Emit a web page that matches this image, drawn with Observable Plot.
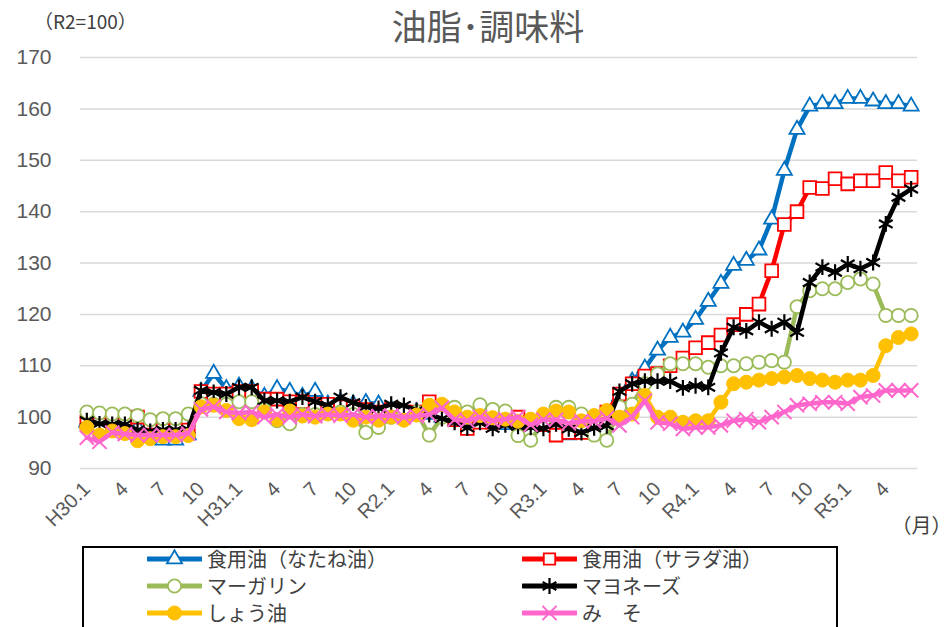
<!DOCTYPE html>
<html><head><meta charset="utf-8">
<script src="https://cdn.jsdelivr.net/npm/d3@7"></script>
<script src="https://cdn.jsdelivr.net/npm/@observablehq/plot@0.6"></script>
<style>
body{margin:0;background:#fff;}
#wrap{width:950px;height:627px;overflow:hidden;position:relative;}
#head{position:relative;height:40px;}
#title{position:absolute;left:0;width:976px;top:4px;text-align:center;font-family:"Noto Sans CJK JP",sans-serif;font-size:35px;color:#595959;line-height:42px;}
#unit{position:absolute;left:34px;top:10px;font-family:"Noto Sans CJK JP","Liberation Sans",sans-serif;font-size:19px;color:#404040;line-height:22px;}
#chart svg{display:block;}
#legend{position:relative;height:81px;}
#legbox{position:absolute;left:82px;top:0;width:756px;height:81px;border:2px solid #000;border-bottom:none;box-sizing:border-box;}
.item{position:absolute;display:flex;align-items:center;font-family:"Noto Sans CJK JP",sans-serif;font-size:20px;line-height:26px;color:#404040;white-space:nowrap;}
.item svg{margin-right:5px;}
</style></head><body>
<div id="wrap">
  <div id="head"><div id="title">油脂･調味料</div><div id="unit">（R2=100）</div></div>
  <div id="chart"></div>
  <div id="legend"><div id="legbox"></div></div>
</div>
<script>
// Tick labels every 3 months, H30.1 (2018/1) .. R5.4
const tickLabels = ["H30.1","4","7","10","H31.1","4","7","10","R2.1","4","7","10","R3.1","4","7","10","R4.1","4","7","10","R5.1","4"];
const yTicks = [90,100,110,120,130,140,150,160,170];
const seriesNames = ["食用油（なたね油）","食用油（サラダ油）","マーガリン","マヨネーズ","しょう油","み　そ"];

// Monthly values H30.1 .. R5.6 (66 months)
const nataneOil = [99,98.5,98.5,98,98,97.5,95.5,95.5,96.5,
 105,108.5,105.5,106,105.5,104,105.5,105,104,105,102.5,103,102.5,102.8,102.5,
 101.5,101,101,100.5,100,100,99.5,99.5,99,98.5,99,99,
 98.5,98,96.5,98,98.5,100.5,104,107,109.5,113,115.5,116.5,
 119,122.5,126,129.5,130.5,132.5,138.5,148,156,160.5,161,161,
 162,162,161.5,161,161,160.5];
const saladOil = [99,98.5,98.5,98.5,100,99,97.5,97.5,97.5,
 105,104.5,104.5,105,105,103.5,103.5,103,103,102.5,102.5,102,102,101.5,101,
 101.5,101,101,103,100.5,99.5,97.8,99,99,99.5,100,99,
 98.5,96.5,97,97,99,101,104.5,106.5,108,108.5,110,111.5,
 113.5,114.5,116,118,120,122,128.5,137.5,140,144.7,144.5,146.4,
 145.4,146,146,147.6,146,146.7];
const margarine = [101,100.8,100.6,100.6,100.3,99.5,99.7,99.7,100.6,
 102.6,102.5,102.5,103,103,101.5,99.3,98.7,100.5,100.5,101,101,100.5,97,98,
 100,101,101,96.5,100,101.9,101,102.4,101.5,101.2,96.4,95.5,
 99,101.9,101.9,100.6,96.5,95.5,102,102.5,106.5,108.4,110.4,110.4,
 110.4,109.7,110,110,110.4,110.7,111,110.7,121.5,124.6,125,125,
 126.2,126.9,125.9,119.8,119.8,119.8];
const mayonnaise = [99.3,98.7,98.6,98.6,97.5,97.2,97.5,97.5,97.6,
 105.2,104.8,104.5,105.8,105.8,103.2,103.2,103,103.9,103,102.3,103.9,102.8,102,101.7,
 102.5,102.3,101.3,100.5,99.7,99,97.9,99,97.8,98.5,98.2,98,
 97.8,98.7,97.7,97,97.9,98.3,105,106.5,107,107,107,105.7,
 106.1,105.8,112.5,117.5,116.8,118.5,117.2,118.5,116.5,126.2,129.2,128.2,
 129.8,128.9,130.1,137.6,142.8,144.4];
const soySauce = [98,96.5,97.3,96.8,95.4,95.8,96.2,96.2,96.4,
 102,102.3,101.3,99.7,99.5,101,99.5,101.2,100.2,100,100.6,100.6,99.4,100,99.4,
 100,99.4,100.4,102.3,102.5,101,100,100.3,99.9,99.6,99.2,99.6,
 100.6,101.2,101,99.3,100.3,101.3,100,100.6,104.2,100,100,99,
 99.3,99.3,102.9,106.5,106.8,107.2,107.5,107.8,108.1,107.5,107.2,106.8,
 107.2,107.2,108.1,113.9,115.5,116.2];
const miso = [96,95.2,97,96.7,96.5,96.5,96.5,96.5,96.8,
 101.5,102,101,100.8,101,100,100.5,100,100.5,100.2,100.5,100.3,100.5,100,100.2,
 100.3,100,100.2,100.5,101.8,99.5,99.3,100,99.3,99.6,100,98.5,
 99.5,99.5,98.8,99.2,99.2,99.8,98.4,100,103.2,99,98.7,97.7,
 98,98,98.4,99.3,99.6,99,100,101,102.3,102.6,102.9,102.9,
 102.6,103.9,104.2,105.2,105.2,105.2];

const styles = [
  {color:"#0070C0", symbol:"triangle", r:5.6, fill:"white", sw:1.8},
  {color:"#FF0000", symbol:"square", r:7.2, fill:"white", sw:1.8},
  {color:"#9BBB59", symbol:"circle", r:6.6, fill:"white", sw:1.8},
  {color:"#000000", symbol:"asterisk", r:7.5, fill:"none", sw:2.2},
  {color:"#FFC000", symbol:"circle", r:7, fill:"#FFC000", sw:1},
  {color:"#FF66CC", symbol:"times", r:6.5, fill:"none", sw:2}
];
const allValues = [nataneOil, saladOil, margarine, mayonnaise, soySauce, miso];
const tickPos = tickLabels.map((_, k) => k * 3);

const marks = [
  Plot.ruleY(yTicks, {stroke:"#d9d9d9", strokeWidth:1.5}),
  Plot.axisY({ticks: yTicks, tickSize:0, tickPadding:29, fontSize:21, fill:"#595959", label:null}),
  Plot.axisX({ticks: tickPos, tickFormat: d => tickLabels[d/3], tickRotate:-45, tickSize:0, tickPadding:17, fontSize:20, fill:"#595959", label:null})
];
allValues.forEach((vals, s) => {
  const st = styles[s];
  const data = vals.map((v, i) => ({i, v}));
  marks.push(Plot.line(data, {x:"i", y:"v", stroke:st.color, strokeWidth:4.5, strokeLinejoin:"round"}));
  marks.push(Plot.dot(data, {x:"i", y:"v", symbol:st.symbol, r:st.r, fill: st.fill, stroke:st.color, strokeWidth:st.sw}));
});
marks.push(Plot.text(["（月）"], {frameAnchor:"bottom-right", dx:4, dy:64, text:d=>d, fontSize:20, fill:"#404040", fontFamily:"Noto Sans CJK JP", textAnchor:"middle"}));

const chart = Plot.plot({
  width:950, height:506,
  marginTop:17, marginBottom:78, marginLeft:80, marginRight:33,
  x:{type:"linear", domain:[-0.5, 65.5]},
  y:{domain:[90,170]},
  style:{fontFamily:"'Liberation Sans', Arial, sans-serif", background:"white", overflow:"visible"},
  marks
});
document.getElementById("chart").appendChild(chart);

// legend
const legend = document.getElementById("legend");
const pos = [[147,13],[522,13],[147,40],[522,40],[147,67],[522,67]];
seriesNames.forEach((name, s) => {
  const st = styles[s];
  const div = document.createElement("div");
  div.className = "item";
  div.style.left = pos[s][0] + "px";
  div.style.top = (pos[s][1] - 13) + "px";
  const svg = d3.create("svg").attr("width", 55).attr("height", 20);
  svg.append("line").attr("x1",1).attr("x2",54).attr("y1",10).attr("y2",10).attr("stroke",st.color).attr("stroke-width",5).attr("stroke-linecap","round");
  const sym = {triangle:d3.symbolTriangle, square:d3.symbolSquare, circle:d3.symbolCircle, asterisk:d3.symbolAsterisk, times:d3.symbolTimes}[st.symbol];
  svg.append("path").attr("transform","translate(27.5,10)").attr("d", d3.symbol(sym, Math.PI*st.r*st.r*(st.symbol==="square"?0.8:1))())
    .attr("fill", st.fill).attr("stroke", st.color).attr("stroke-width", st.sw);
  div.appendChild(svg.node());
  const span = document.createElement("span");
  span.textContent = name;
  div.appendChild(span);
  legend.appendChild(div);
});
</script>
</body></html>
